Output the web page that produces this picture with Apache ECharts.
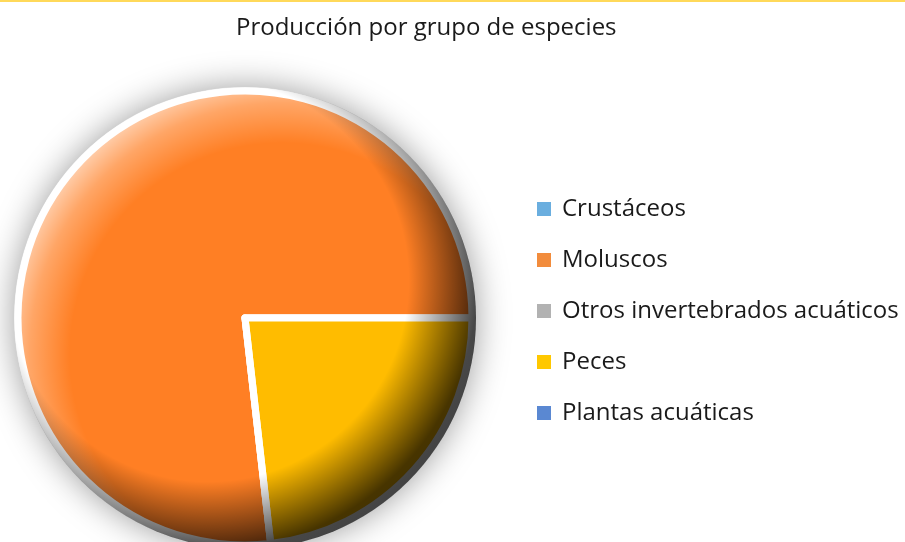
<!DOCTYPE html>
<html>
<head>
<meta charset="utf-8">
<title>Producción por grupo de especies</title>
<script src="https://cdn.jsdelivr.net/npm/echarts@6/dist/echarts.min.js"></script>
<style>
  html, body { margin: 0; padding: 0; background: #fff; }
  #chart { width: 905px; height: 542px; }
</style>
</head>
<body>
<div id="chart"></div>
<script>
const titulo = 'Producción por grupo de especies';
const grupos = ['Crustáceos', 'Moluscos', 'Otros invertebrados acuáticos', 'Peces', 'Plantas acuáticas'];
const produccion = [0, 76.8, 0, 23.2, 0];
const coloresPorcion = ['#5BA3DA', '#FF7F24', '#A5A5A5', '#FFBC00', '#4A7FCF'];
const coloresLeyenda = ['#6AAEDF', '#F28C3C', '#B2B2B2', '#FFC800', '#5A88D2'];

const centro = [245, 318];
const radio = 227;

const chart = echarts.init(document.getElementById('chart'), null, { renderer: 'canvas' });

const option = {
  backgroundColor: '#fff',
  animation: false,
  title: {
    text: titulo,
    left: 231,
    top: 11,
    textStyle: {
      fontFamily: 'Open Sans',
      fontSize: 24,
      fontWeight: 'normal',
      color: '#1a1a1a'
    }
  },
  graphic: [
    {
      type: 'rect',
      left: 0,
      top: 0,
      shape: { width: 905, height: 2 },
      style: { fill: '#FFD95A' },
      silent: true
    }
  ],
  legend: {
    orient: 'vertical',
    left: 537,
    top: 197,
    padding: 0,
    icon: 'rect',
    itemWidth: 14,
    itemHeight: 14,
    itemGap: 27,
    selectedMode: false,
    textStyle: {
      fontFamily: 'Open Sans',
      fontSize: 24,
      lineHeight: 24,
      color: '#1a1a1a',
      padding: [0, 0, 0, 6]
    },
    data: grupos.map((g, i) => ({
      name: g,
      itemStyle: { color: coloresLeyenda[i], borderWidth: 0 }
    }))
  },
  series: [
    // sombra del círculo
    {
      type: 'pie',
      center: centro,
      radius: radio + 3.5,
      silent: true,
      label: { show: false },
      labelLine: { show: false },
      itemStyle: {
        color: '#fff',
        shadowBlur: 34,
        shadowColor: 'rgba(0,0,0,0.4)'
      },
      data: [{ name: 'fondo', value: 1 }]
    },
    {
      type: 'pie',
      center: centro,
      radius: radio,
      startAngle: -83.5,
      clockwise: true,
      label: { show: false },
      labelLine: { show: false },
      emphasis: { disabled: true },
      itemStyle: {
        borderColor: '#fff',
        borderWidth: 7
      },
      data: grupos.map((g, i) => ({
        name: g,
        value: produccion[i],
        itemStyle: { color: coloresPorcion[i] }
      }))
    },
    // luz arriba a la izquierda
    {
      type: 'pie',
      center: centro,
      radius: radio + 4,
      silent: true,
      label: { show: false },
      labelLine: { show: false },
      itemStyle: {
        color: {
          type: 'radial', x: 0.58, y: 0.58, r: 0.62,
          colorStops: [
            { offset: 0, color: 'rgba(255,255,255,0)' },
            { offset: 0.74, color: 'rgba(255,255,255,0)' },
            { offset: 0.88, color: 'rgba(255,255,255,0.3)' },
            { offset: 1, color: 'rgba(255,255,255,0.72)' }
          ]
        }
      },
      data: [{ name: 'luz', value: 1 }]
    },
    // sombra abajo a la derecha
    {
      type: 'pie',
      center: centro,
      radius: radio + 4,
      silent: true,
      label: { show: false },
      labelLine: { show: false },
      itemStyle: {
        color: {
          type: 'radial', x: 0.42, y: 0.42, r: 0.62,
          colorStops: [
            { offset: 0, color: 'rgba(0,0,0,0)' },
            { offset: 0.7, color: 'rgba(0,0,0,0)' },
            { offset: 0.85, color: 'rgba(0,0,0,0.45)' },
            { offset: 0.94, color: 'rgba(0,0,0,0.72)' },
            { offset: 1, color: 'rgba(0,0,0,0.74)' }
          ]
        }
      },
      data: [{ name: 'sombra', value: 1 }]
    }
  ]
};

chart.setOption(option);
</script>
</body>
</html>
